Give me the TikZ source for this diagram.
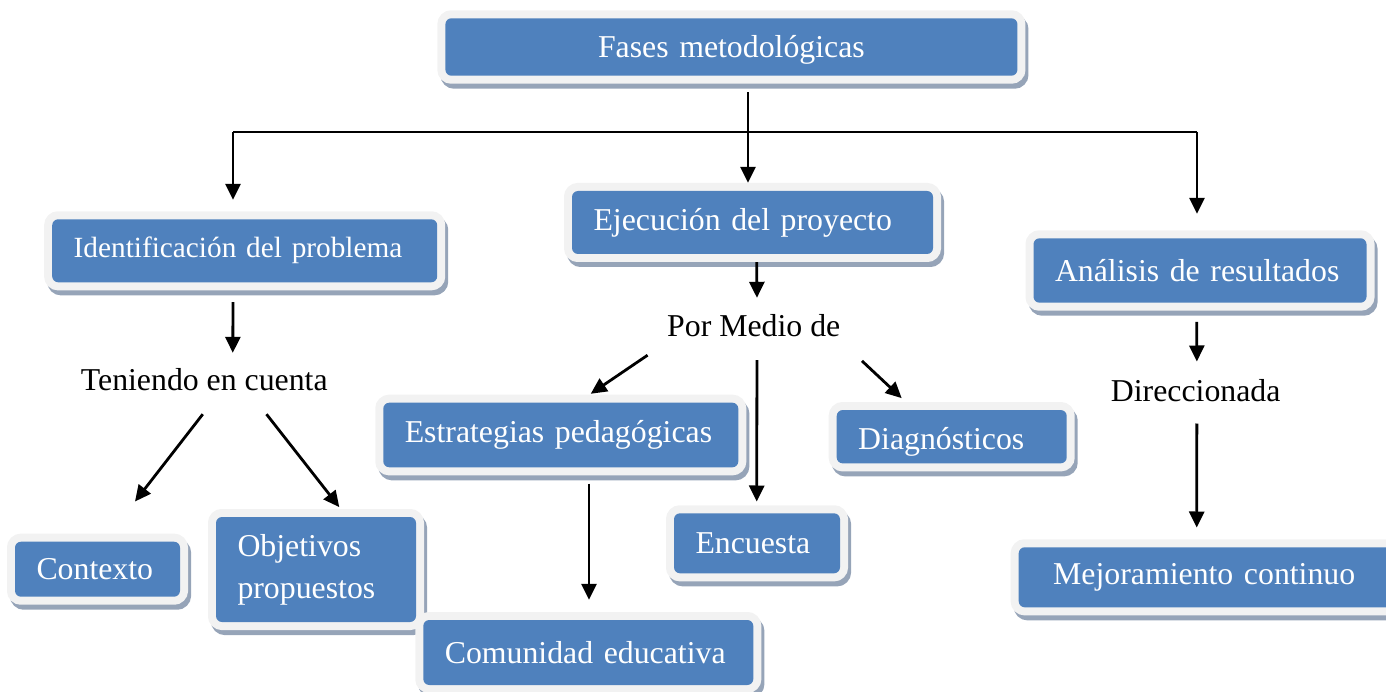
\documentclass[tikz,border=0pt]{standalone}
\usepackage{fontspec}
\setmainfont{Liberation Serif}
\usetikzlibrary{arrows.meta}
\definecolor{boxblue}{HTML}{4F81BD}
\definecolor{framecol}{HTML}{F2F2F2}
\definecolor{shadowcol}{RGB}{150,164,184}
\tikzset{
  bluebox/.style={rounded corners=6pt, fill=boxblue, text=white,
    inner xsep=21.5pt, inner ysep=0pt, align=left,
    font=\fontsize{31.8pt}{42pt}\selectfont,
    preaction={draw=shadowcol, fill=shadowcol, line width=16pt,
      transform canvas={shift={(3pt,-5pt)}}},
    preaction={draw=framecol, line width=16pt}},
  plaintext/.style={inner sep=0pt, anchor=base west, text height=22pt,
    text depth=7pt, font=\fontsize{31.8pt}{41pt}\selectfont},
  conn/.style={line width=2.8pt},
  arr/.style={line width=2.8pt, -{Triangle[length=16pt,width=15pt]}}
}
\begin{document}
\begin{tikzpicture}[x=1pt,y=-1pt]
\useasboundingbox (0,0) rectangle (1386,692);
\clip (0,0) rectangle (1386,692);

% boxes
\node[bluebox, text width=529pt, align=center, minimum height=57.4pt, text height=29pt, text depth=7pt] (fases) at (731.4,47) {Fases metodológicas};
\node[bluebox, text width=342pt, minimum height=63pt, font=\fontsize{29.3pt}{36pt}\selectfont] (ident) at (244.7,250.8) {Identificación del problema};
\node[bluebox, text width=318pt, minimum height=63pt] (ejec) at (752.5,222.5) {Ejecución del proyecto};
\node[bluebox, text width=290pt, minimum height=64.4pt] (anal) at (1200,270.5) {Análisis de resultados};
\node[bluebox, text width=312pt, minimum height=64.6pt] (estr) at (560.8,435) {Estrategias pedagógicas};
\node[bluebox, text width=187pt, minimum height=53.3pt, text height=33pt] (diag) at (951.7,436.7) {Diagnósticos};
\node[bluebox, text width=123pt, minimum height=60pt] (enc) at (757,543.3) {Encuesta};
\node[bluebox, text width=122pt, minimum height=55pt] (cont) at (97.5,569.2) {Contexto};
\node[bluebox, text width=157pt, minimum height=105pt] (obj) at (316,569.5) {Objetivos\\propuestos};
\node[bluebox, text width=287pt, minimum height=65pt] (com) at (588.3,652.5) {Comunidad educativa};
\node[bluebox, text width=336pt, minimum height=60pt] (mej) at (1208.2,577.3) {\hspace*{13pt}Mejoramiento continuo};

% plain texts
\node[plaintext] (ten) at (80.7,390.7) {Teniendo en cuenta};
\node[plaintext] (pmd) at (667,337) {Por Medio de};
\node[plaintext] (dir) at (1110.7,401.7) {Direccionada};

% connectors
\coordinate (jl) at (233,132);
\coordinate (jr) at (1197,132);
\draw[conn] (jl) -- (jr);
\draw[arr, shorten >=19.3pt] (jl) -- (jl |- ident.north);
\draw[arr, shorten >=24.3pt] (jr) -- (jr |- anal.north);
\draw[arr] ([xshift=16.6pt,yshift=-16.3pt]fases.south) -- ([xshift=-4.5pt,yshift=8pt]ejec.north);
\draw[arr] ([xshift=4.2pt,yshift=-8pt]ejec.south) -- ([xshift=3.2pt,yshift=17pt]pmd.north);
\draw[arr] ([xshift=-11.7pt,yshift=-19.7pt]ident.south) -- ([xshift=28.5pt,yshift=15.7pt]ten.north);
\draw[arr] ([xshift=-1.5pt,yshift=-16.3pt]ten.south) -- ([xshift=37.5pt,yshift=40pt]cont.north);
\draw[arr] ([xshift=62.2pt,yshift=-16.3pt]ten.south) -- ([xshift=23.3pt,yshift=9.7pt]obj.north);
\draw[arr] ([xshift=-106.2pt,yshift=-11pt]pmd.south) -- ([xshift=29.9pt,yshift=8.7pt]estr.north);
\draw[arr] ([xshift=108.2pt,yshift=-16.7pt]pmd.south) -- ([xshift=-50pt,yshift=11.7pt]diag.north);
\draw[arr] ([xshift=3.2pt,yshift=-16pt]pmd.south) -- ([xshift=-0.3pt,yshift=11.6pt]enc.north);
\draw[arr] ([xshift=28.2pt,yshift=-16pt]estr.south) -- ([xshift=0.7pt,yshift=20pt]com.north);
\draw[arr] ([xshift=-3.3pt,yshift=-19pt]anal.south) -- ([xshift=1.2pt,yshift=18pt]dir.north);
\draw[arr] ([xshift=1.2pt,yshift=-14.6pt]dir.south) -- ([xshift=-11.5pt,yshift=19.6pt]mej.north);
\end{tikzpicture}
\end{document}
